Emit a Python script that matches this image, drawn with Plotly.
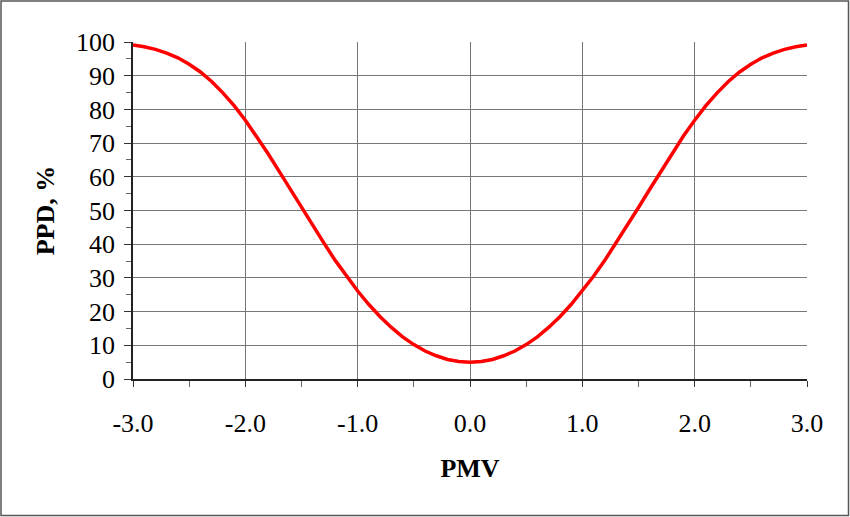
import plotly.graph_objects as go

# PMV / PPD values
pmv = [-3.0, -2.9, -2.8, -2.7, -2.6, -2.5, -2.4, -2.3, -2.2, -2.1, -2.0,
       -1.9, -1.8, -1.7, -1.6, -1.5, -1.4, -1.3, -1.2, -1.1, -1.0,
       -0.9, -0.8, -0.7, -0.6, -0.5, -0.4, -0.3, -0.2, -0.1, 0.0,
       0.1, 0.2, 0.3, 0.4, 0.5, 0.6, 0.7, 0.8, 0.9, 1.0,
       1.1, 1.2, 1.3, 1.4, 1.5, 1.6, 1.7, 1.8, 1.9, 2.0,
       2.1, 2.2, 2.3, 2.4, 2.5, 2.6, 2.7, 2.8, 2.9, 3.0]
ppd = [99.1, 98.6, 97.8, 96.7, 95.3, 93.4, 91.1, 88.3, 84.9, 81.1, 76.8,
       72.1, 67.0, 61.7, 56.3, 50.9, 45.5, 40.3, 35.2, 30.5, 26.1,
       22.1, 18.5, 15.3, 12.5, 10.2, 8.3, 6.9, 5.8, 5.2, 5.0,
       5.2, 5.8, 6.9, 8.3, 10.2, 12.5, 15.3, 18.5, 22.1, 26.1,
       30.5, 35.2, 40.3, 45.5, 50.9, 56.3, 61.7, 67.0, 72.1, 76.8,
       81.1, 84.9, 88.3, 91.1, 93.4, 95.3, 96.7, 97.8, 98.6, 99.1]
x_ticks = [-3, -2, -1, 0, 1, 2, 3]
x_labels = ["-3.0", "-2.0", "-1.0", "0.0", "1.0", "2.0", "3.0"]

serif = "Liberation Serif, Times New Roman, serif"

fig = go.Figure()
fig.add_trace(go.Scatter(
    x=pmv, y=ppd, mode="lines",
    line=dict(color="#ff0000", width=3.5),
    showlegend=False, hoverinfo="skip"
))

# outer frame around the whole picture
L, R, T, B = 133, 43, 42, 138
pw, ph = 850 - L - R, 517 - T - B
fig.add_shape(
    type="rect", xref="paper", yref="paper",
    x0=(1 - L) / pw, x1=(848.5 - L) / pw,
    y0=(517 - B - 515.5) / ph, y1=(517 - B - 1) / ph,
    line=dict(color="#555555", width=1.5), fillcolor="rgba(0,0,0,0)", layer="below"
)

fig.update_layout(
    width=850, height=517,
    margin=dict(l=L, r=R, t=T, b=B),
    paper_bgcolor="white", plot_bgcolor="white",
    font=dict(family=serif, size=26, color="black"),
    xaxis=dict(
        range=[-3, 3], tickvals=x_ticks, ticktext=x_labels,
        showgrid=True, gridcolor="#777777", gridwidth=1,
        zeroline=False, showline=True, linecolor="#222222", linewidth=1.5,
        ticks="outside", ticklen=6, tickcolor="#333333",
        minor=dict(dtick=0.5, ticks="outside", ticklen=6, tickcolor="#666666", showgrid=False),
        title=dict(text="<b>PMV</b>", font=dict(size=26), standoff=22),
        tickfont=dict(size=26), ticklabelstandoff=14,
    ),
    yaxis=dict(
        range=[0, 100], dtick=10,
        showgrid=True, gridcolor="#777777", gridwidth=1,
        zeroline=False, showline=True, linecolor="#222222", linewidth=1.5,
        ticks="outside", ticklen=7, tickcolor="#333333",
        minor=dict(dtick=5, ticks="outside", ticklen=5, tickcolor="#666666", showgrid=False),
        title=dict(text="<b>PPD, %</b>", font=dict(size=26), standoff=14),
        tickfont=dict(size=26), ticklabelstandoff=4,
    ),
)

fig.write_html("out.html", config={"displayModeBar": False},
               post_script="document.body.style.margin='0';")
